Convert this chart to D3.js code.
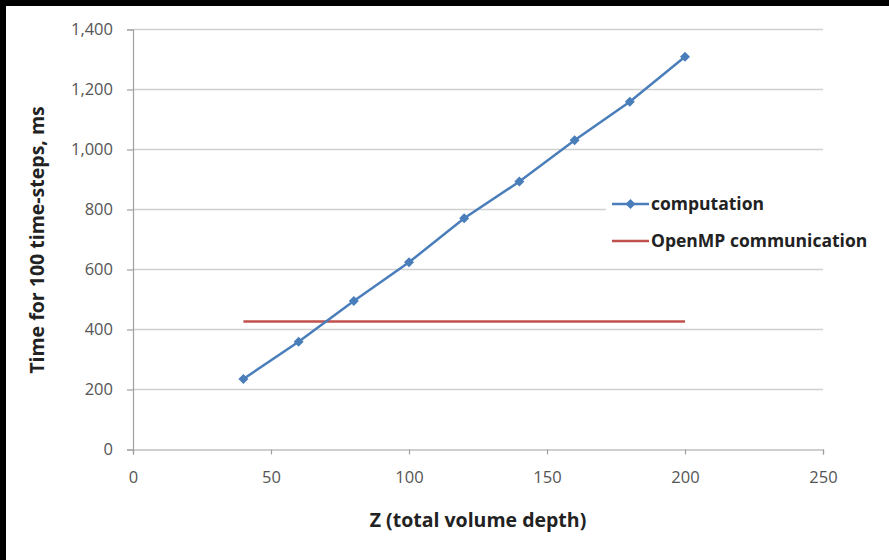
<!DOCTYPE html>
<html>
<head>
<meta charset="utf-8">
<script src="https://cdn.jsdelivr.net/npm/d3@7"></script>
<style>
  html, body { margin: 0; padding: 0; background: #fff; overflow: hidden; }
  svg { display: block; }
  text { font-family: "Open Sans", "Liberation Sans", sans-serif; }
</style>
</head>
<body>
<svg id="chart" width="889" height="560"></svg>
<script>
const zValues = [40, 60, 80, 100, 120, 140, 160, 180, 200];
const computation = [235, 359, 495, 624, 771, 893, 1031, 1159, 1309];
const openmpZ = [40, 200];
const openmpComm = [427, 427];
const xTicks = [0, 50, 100, 150, 200, 250];
const yTicks = [0, 200, 400, 600, 800, 1000, 1200, 1400];
const seriesNames = ["computation", "OpenMP communication"];

const svg = d3.select("#chart");
const W = 889, H = 560;

// frame
svg.append("rect").attr("x", 0).attr("y", 0).attr("width", W).attr("height", H).attr("fill", "#fff");
svg.append("rect").attr("x", 0).attr("y", 0).attr("width", W).attr("height", 6).attr("fill", "#000");
svg.append("rect").attr("x", 0).attr("y", 0).attr("width", 6).attr("height", H).attr("fill", "#000");

const x = d3.scaleLinear().domain([0, 250]).range([133, 823]);
const y = d3.scaleLinear().domain([0, 1400]).range([449.5, 29.5]);

// gridlines
svg.append("g").selectAll("line").data(yTicks.filter(d => d > 0)).join("line")
  .attr("x1", x(0)).attr("x2", x(250))
  .attr("y1", d => y(d)).attr("y2", d => y(d))
  .attr("stroke", "#d0d0d0").attr("stroke-width", 1.5);

// y axis
const yAxis = d3.axisLeft(y).tickValues(yTicks).tickSize(6).tickPadding(14)
  .tickFormat(d3.format(","));
const gy = svg.append("g").attr("transform", `translate(${x(0)},0)`).call(yAxis);
gy.select(".domain").attr("stroke", "#a0a0a0").attr("stroke-width", 1.2);
gy.selectAll(".tick line").attr("stroke", "#a0a0a0").attr("stroke-width", 1.2);
gy.selectAll(".tick text").attr("fill", "#555").attr("font-size", 16.5);

// x axis
const xAxis = d3.axisBottom(x).tickValues(xTicks).tickSize(5).tickPadding(17);
const gx = svg.append("g").attr("transform", `translate(0,${y(0)})`).call(xAxis);
gx.select(".domain").attr("stroke", "#a0a0a0").attr("stroke-width", 1.2);
gx.selectAll(".tick line").attr("stroke", "#a0a0a0").attr("stroke-width", 1.2);
gx.selectAll(".tick text").attr("fill", "#555").attr("font-size", 16.5);

// axis titles
svg.append("text").attr("x", 478).attr("y", 527).attr("text-anchor", "middle")
  .attr("font-size", 19.5).attr("font-weight", "bold").attr("fill", "#222")
  .text("Z (total volume depth)");
svg.append("text").attr("transform", "translate(44,240) rotate(-90)").attr("text-anchor", "middle")
  .attr("font-size", 19.5).attr("font-weight", "bold").attr("fill", "#222")
  .text("Time for 100 time-steps, ms");

// OpenMP line
const line = d3.line().x(d => x(d[0])).y(d => y(d[1]));
svg.append("path").datum(openmpZ.map((z, i) => [z, openmpComm[i]]))
  .attr("d", line).attr("fill", "none").attr("stroke", "#c0504d").attr("stroke-width", 2.5);

// computation line
const compData = zValues.map((z, i) => [z, computation[i]]);
svg.append("path").datum(compData)
  .attr("d", line).attr("fill", "none").attr("stroke", "#4a7ebb").attr("stroke-width", 2.5);
const diamond = d3.symbol().type(d3.symbolSquare).size(50);
svg.append("g").selectAll("path").data(compData).join("path")
  .attr("d", diamond).attr("transform", d => `translate(${x(d[0])},${y(d[1])}) rotate(45)`)
  .attr("fill", "#4a7ebb");

// legend
const lg = svg.append("g");
lg.append("rect").attr("x", 606).attr("y", 190).attr("width", 276).attr("height", 66).attr("fill", "#fff");
const ly = [204, 241];
const colors = ["#4a7ebb", "#c0504d"];
seriesNames.forEach((name, i) => {
  lg.append("line").attr("x1", 612).attr("x2", 649).attr("y1", ly[i]).attr("y2", ly[i])
    .attr("stroke", colors[i]).attr("stroke-width", 2.5);
  if (i === 0) {
    lg.append("path").attr("d", diamond).attr("transform", `translate(630.5,${ly[i]}) rotate(45)`).attr("fill", colors[i]);
  }
  lg.append("text").attr("x", 651).attr("y", ly[i]).attr("dy", "0.35em")
    .attr("font-size", 17.5).attr("font-weight", "bold").attr("fill", "#222").text(name);
});
</script>
</body>
</html>
